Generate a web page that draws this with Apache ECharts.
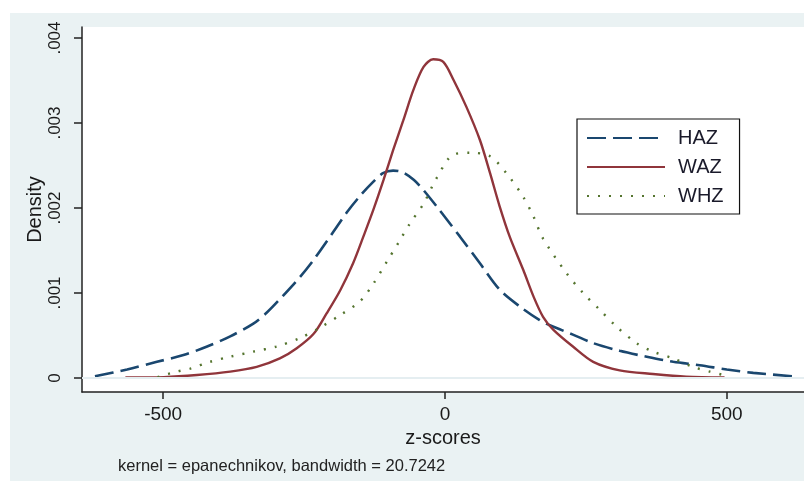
<!DOCTYPE html>
<html>
<head>
<meta charset="utf-8">
<script src="https://cdn.jsdelivr.net/npm/echarts@6/dist/echarts.min.js"></script>
<style>
html,body{margin:0;padding:0;background:#fff;width:804px;height:481px;overflow:hidden;}
#chart{position:absolute;left:10px;top:13px;width:794px;height:468px;background:#eaf2f3;}
</style>
</head>
<body>
<div id="chart"></div>
<script>
// ---- data ----
const hazX = [-621,-564,-511,-464,-422,-381,-340,-316,-287,-257,-233,-198,-174,-151,-127,-110,-92,-75,-55,-38,-9,27,62,97,133,168,186,227,263,310,358,405,452,500,547,618];
const hazY = [0.00002,0.0001,0.00019,0.00027,0.00037,0.00049,0.00064,0.00077,0.00097,0.00119,0.00139,0.00172,0.00195,0.00214,0.00231,0.00241,0.00244,0.00242,0.00233,0.00221,0.00197,0.00166,0.00135,0.00104,0.00084,0.00068,0.00062,0.00051,0.00041,0.00032,0.00025,0.00019,0.00015,0.0001,0.00006,0.00002];

const wazX = [-567,-499,-440,-381,-334,-293,-263,-233,-210,-186,-163,-145,-127,-109,-92,-74,-56,-38,-21,-3,15,38,62,80,97,115,139,157,174,192,227,263,310,369,428,496];
const wazY = [0.000005,0.00001,0.000035,0.000075,0.00013,0.00023,0.00035,0.00052,0.00076,0.00103,0.00135,0.00166,0.00198,0.00233,0.00268,0.00303,0.00339,0.00366,0.00375,0.00372,0.00351,0.00319,0.0028,0.00241,0.00202,0.00166,0.00127,0.00096,0.00072,0.00057,0.00037,0.00019,0.00009,0.000047,0.000015,0.000005];

const whzX = [-510,-476,-452,-417,-381,-340,-299,-257,-220,-186,-151,-127,-103,-80,-62,-38,-15,15,45,80,109,139,157,174,216,245,275,305,340,369,405,440,470,494];
const whzY = [0.00001,0.000075,0.00011,0.00019,0.00025,0.00031,0.00037,0.00047,0.0006,0.00074,0.0009,0.00111,0.00137,0.00162,0.00182,0.00205,0.00235,0.00263,0.00265,0.00261,0.00241,0.00213,0.0019,0.00164,0.00123,0.001,0.0008,0.0006,0.00041,0.00031,0.00023,0.00013,0.000075,0.000035];

const seriesNames = ['HAZ','WAZ','WHZ'];
const xTicks = [-500, 0, 500];
const yTicks = [0, 0.001, 0.002, 0.003, 0.004];
const xTitle = 'z-scores';
const yTitle = 'Density';
const note = 'kernel = epanechnikov, bandwidth = 20.7242';

// ---- chart ----
const zip = (xs, ys) => xs.map((x, i) => [x, ys[i]]);
const FONT = '"Liberation Sans", Arial, sans-serif';
const fmtY = v => v === 0 ? '0' : String(v).replace(/^0/, '');

const chart = echarts.init(document.getElementById('chart'), null, {renderer: 'canvas'});
chart.setOption({
  animation: false,
  backgroundColor: '#eaf2f3',
  textStyle: {fontFamily: FONT},
  title: {
    text: note, left: 108, top: 445, padding: 0,
    textStyle: {fontSize: 16.5, fontWeight: 'normal', color: '#222', fontFamily: FONT}
  },
  grid: {left: 72, top: 14, right: 0, bottom: 89, show: true, backgroundColor: '#ffffff', borderWidth: 0},
  legend: {
    data: seriesNames,
    orient: 'vertical',
    left: 567, top: 106,
    backgroundColor: '#ffffff',
    borderColor: '#111', borderWidth: 1.2,
    padding: [9, 16, 8, 9],
    itemWidth: 78, itemHeight: 14, itemGap: 9,
    itemStyle: {color: 'rgba(0,0,0,0)', borderColor: 'rgba(0,0,0,0)', borderWidth: 0},
    textStyle: {fontSize: 20, color: '#1a1a2a', fontFamily: FONT, lineHeight: 20, padding: [0, 0, 0, 8]}
  },
  xAxis: {
    type: 'value', min: -644, max: 637,
    axisLine: {show: true, onZero: false, lineStyle: {color: '#222', width: 1.5}},
    axisTick: {show: true, customValues: xTicks, length: 7, lineStyle: {color: '#222', width: 1.5}},
    axisLabel: {customValues: xTicks, fontSize: 19, color: '#1a1a1a', margin: 13, fontFamily: FONT},
    splitLine: {show: false},
    name: xTitle, nameLocation: 'middle', nameGap: 36,
    nameTextStyle: {fontSize: 20, color: '#1a1a1a', fontFamily: FONT}
  },
  yAxis: {
    type: 'value', min: -0.000165, max: 0.00413,
    axisLine: {show: true, onZero: false, lineStyle: {color: '#222', width: 1.5}},
    axisTick: {show: true, customValues: yTicks, length: 8, lineStyle: {color: '#222', width: 1.5}},
    axisLabel: {customValues: yTicks, rotate: 90, fontSize: 17, color: '#1a1a1a', margin: 18, formatter: fmtY, fontFamily: FONT},
    splitLine: {show: false},
    name: yTitle, nameLocation: 'middle', nameGap: 37, nameRotate: 90, nameMoveOverlap: false,
    nameTextStyle: {fontSize: 20, color: '#1a1a1a', fontFamily: FONT}
  },
  series: [
    {
      name: '_grid', type: 'line', data: [], z: 1, silent: true,
      markLine: {
        silent: true, symbol: ['none', 'none'], label: {show: false},
        lineStyle: {color: '#e4eef0', width: 1.5, type: 'solid'},
        data: yTicks.map(v => ({yAxis: v}))
      }
    },
    {
      name: seriesNames[0], type: 'line', data: zip(hazX, hazY), showSymbol: false, symbol: 'none', smooth: 0.3,
      lineStyle: {color: '#1a476f', width: 2.6, type: [19, 7]}, itemStyle: {color: '#1a476f'}
    },
    {
      name: seriesNames[1], type: 'line', data: zip(wazX, wazY), showSymbol: false, symbol: 'none', smooth: 0.3,
      lineStyle: {color: '#90353b', width: 2.4, type: 'solid'}, itemStyle: {color: '#90353b'}
    },
    {
      name: seriesNames[2], type: 'line', data: zip(whzX, whzY), showSymbol: false, symbol: 'none', smooth: 0.3,
      lineStyle: {color: '#55752f', width: 2.4, type: [2, 9]}, itemStyle: {color: '#55752f'}
    }
  ]
});
</script>
</body>
</html>
